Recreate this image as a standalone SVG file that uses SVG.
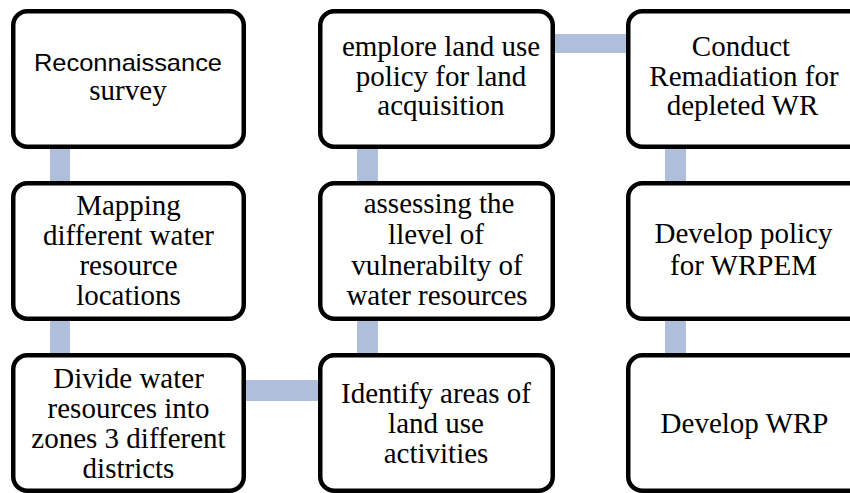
<svg xmlns="http://www.w3.org/2000/svg" width="850" height="493" viewBox="0 0 850 493">
<style>
.box{fill:#ffffff;stroke:#000000;stroke-width:4.5}
.con{fill:#aebedb}
.t{font-family:"Liberation Serif","Times New Roman",serif;font-size:29px;fill:#000;text-anchor:middle}
.s{font-family:"Liberation Sans",Arial,sans-serif;font-size:24px;fill:#000;text-anchor:middle}
</style>
<rect width="850" height="493" fill="#ffffff"/>
<g id="connectors">
<rect class="con" x="50" y="145" width="20" height="40"/>
<rect class="con" x="50" y="317" width="20" height="40"/>
<rect class="con" x="242" y="380" width="80" height="21"/>
<rect class="con" x="357" y="317" width="21" height="40"/>
<rect class="con" x="357" y="145" width="21" height="40"/>
<rect class="con" x="551" y="34" width="79" height="19"/>
<rect class="con" x="665" y="145" width="21" height="40"/>
<rect class="con" x="665" y="317" width="21" height="40"/>
</g>
<g id="n1">
<rect class="box" x="13.25" y="11.25" width="230.5" height="135.5" rx="14"/>
<text class="s" x="128" y="71" textLength="188" lengthAdjust="spacingAndGlyphs">Reconnaissance</text>
<text class="t" x="128" y="100">survey</text>
</g>
<g id="n2">
<rect class="box" x="13.25" y="183.25" width="230.5" height="135.5" rx="14"/>
<text class="t" x="128.5" y="215">Mapping</text>
<text class="t" x="128.5" y="245">different water</text>
<text class="t" x="128.5" y="275">resource</text>
<text class="t" x="128.5" y="305">locations</text>
</g>
<g id="n3">
<rect class="box" x="13.25" y="355.25" width="230.5" height="135.5" rx="14"/>
<text class="t" x="128.5" y="388">Divide water</text>
<text class="t" x="128.5" y="418">resources into</text>
<text class="t" x="128.5" y="448">zones 3 different</text>
<text class="t" x="128.5" y="478">districts</text>
</g>
<g id="n4">
<rect class="box" x="320.25" y="355.25" width="232.5" height="135.5" rx="14"/>
<text class="t" x="436" y="403">Identify areas of</text>
<text class="t" x="436" y="433">land use</text>
<text class="t" x="436" y="463">activities</text>
</g>
<g id="n5">
<rect class="box" x="320.25" y="183.25" width="232.5" height="135.5" rx="14"/>
<text class="t" x="439" y="213">assessing the</text>
<text class="t" x="436" y="244">llevel of</text>
<text class="t" x="437" y="275">vulnerabilty of</text>
<text class="t" x="437" y="305">water resources</text>
</g>
<g id="n6">
<rect class="box" x="320.25" y="11.25" width="232.5" height="135.5" rx="14"/>
<text class="t" x="441" y="56">emplore land use</text>
<text class="t" x="441" y="86">policy for land</text>
<text class="t" x="441" y="115">acquisition</text>
</g>
<g id="n7">
<rect class="box" x="628.25" y="11.25" width="250" height="135.5" rx="14"/>
<text class="t" x="741" y="56">Conduct</text>
<text class="t" x="744" y="86">Remadiation for</text>
<text class="t" x="742.5" y="115">depleted WR</text>
</g>
<g id="n8">
<rect class="box" x="628.25" y="183.25" width="250" height="135.5" rx="14"/>
<text class="t" x="743.5" y="243">Develop policy</text>
<text class="t" x="743.5" y="275">for WRPEM</text>
</g>
<g id="n9">
<rect class="box" x="628.25" y="355.25" width="250" height="135.5" rx="14"/>
<text class="t" x="744.5" y="433">Develop WRP</text>
</g>
</svg>
